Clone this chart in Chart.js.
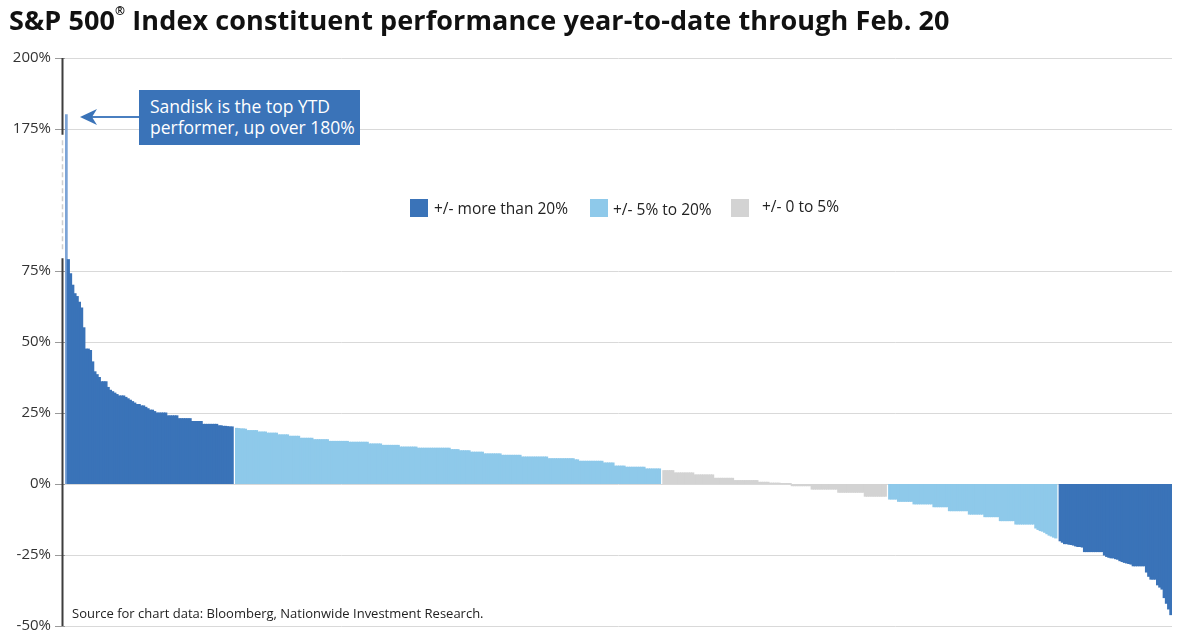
<!DOCTYPE html>
<html>
<head>
<meta charset="utf-8">
<script src="https://cdn.jsdelivr.net/npm/chart.js"></script>
<style>
  body { margin: 0; background: #fff; font-family: "Open Sans", sans-serif; }
  #wrap { position: relative; width: 1200px; height: 643px; overflow: hidden; }
  #chart { position: absolute; left: 0; top: 0; }
  .title { position: absolute; left: 9px; top: 1px; font-size: 27px; font-weight: 700; color: #111; white-space: nowrap; letter-spacing: 0.1px; }
  .title sup { font-size: 12px; position: relative; top: -5px; }
  .legend-box { position: absolute; width: 18px; height: 18px; }
  .legend-text { position: absolute; font-size: 15.5px; color: #222; white-space: nowrap; line-height: 18px; }
  .note { position: absolute; left: 139px; top: 90px; width: 221px; height: 55px; background: #3a73b8; color: #fff;
          font-size: 17.5px; line-height: 21px; padding: 6px 0 0 11px; box-sizing: border-box; white-space: nowrap; }
  .source { position: absolute; left: 72px; top: 604px; font-size: 13px; color: #222; white-space: nowrap; }
  svg { position: absolute; left: 0; top: 0; }
</style>
</head>
<body>
<div id="wrap">
  <canvas id="chart" width="1200" height="643"></canvas>
  <div class="title">S&amp;P 500<sup>®</sup> Index constituent performance year-to-date through Feb. 20</div>

  <div class="legend-box" style="left:410px;top:199px;background:#3a73b8"></div>
  <div class="legend-text" style="left:434px;top:199px">+/- more than 20%</div>
  <div class="legend-box" style="left:590px;top:199px;background:#8ec9ea"></div>
  <div class="legend-text" style="left:613px;top:200px">+/- 5% to 20%</div>
  <div class="legend-box" style="left:731px;top:199px;background:#d3d3d3"></div>
  <div class="legend-text" style="left:762px;top:197px">+/- 0 to 5%</div>

  <svg width="160" height="140">
    <line x1="139" y1="117" x2="92" y2="117" stroke="#4a7fc0" stroke-width="2"/>
    <polygon points="80,117 97,109 92,117 97,125" fill="#3a73b8"/>
  </svg>
  <div class="note">Sandisk is the top YTD<br>performer, up over 180%</div>

  <div class="source">Source for chart data: Bloomberg, Nationwide Investment Research.</div>
</div>

<script>
// YTD % change per constituent, sorted high to low, split by colour band
var darkUp = [180, 79, 74, 70, 67, 66, 64, 62, 55, 47.5, 47.5, 47, 43, 39.5, 38.5, 37.5, 36, 36, 36, 34,
  33, 32.5, 32, 31.5, 31, 31, 31, 30.5, 30, 29.5, 29, 28.5, 28, 28, 27.5, 27.5, 27, 26.5, 26, 26,
  25.5, 25, 25, 25, 25, 25, 24, 24, 24, 24, 24, 23, 23, 23, 23, 23, 23, 22, 22, 22,
  22, 22, 21, 21, 21, 21, 21, 21, 21, 20.5, 20.5, 20.3, 20.3, 20.2, 20.1, 20.1];

var lightUp = [19.6, 19.5, 19.4, 19.4, 19.3,
  18.8, 18.8, 18.8, 18.8, 18.8,
  18.3, 18.3, 18.3, 18.3,
  17.9, 17.9, 17.9, 17.9, 17.9,
  17.3, 17.3, 17.3, 17.3, 17.3,
  16.8, 16.8, 16.8, 16.8, 16.8,
  16.1, 16.1, 16.1, 16.1, 16.1, 16.1,
  15.6, 15.6, 15.6, 15.6, 15.6, 15.6, 15.6,
  15.0, 15.0, 15.0, 15.0, 15.0, 15.0, 15.0, 15.0, 15.0,
  14.7, 14.7, 14.7, 14.7, 14.7, 14.7, 14.7, 14.7, 14.7,
  14.1, 14.1, 14.1, 14.1, 14.1, 14.1,
  13.6, 13.6, 13.6, 13.6, 13.6, 13.6, 13.6, 13.6,
  13.0, 13.0, 13.0, 13.0, 13.0, 13.0, 13.0, 13.0,
  12.6, 12.6, 12.6, 12.6, 12.6, 12.6, 12.6, 12.6, 12.6, 12.6, 12.6, 12.6, 12.6, 12.6, 12.6,
  12.1, 12.1, 12.1, 12.1,
  11.7, 11.7, 11.7, 11.7, 11.7,
  11.2, 11.2, 11.2, 11.2, 11.2, 11.2,
  10.6, 10.6, 10.6, 10.6, 10.6, 10.6, 10.6, 10.6,
  10.1, 10.1, 10.1, 10.1, 10.1, 10.1, 10.1, 10.1, 10.1,
  9.5, 9.5, 9.5, 9.5, 9.5, 9.5, 9.5, 9.5, 9.5, 9.5, 9.5, 9.5,
  8.9, 8.9, 8.9, 8.9, 8.9, 8.9, 8.9, 8.9, 8.9, 8.9, 8.9, 8.9,
  8.5, 8.5,
  8.0, 8.0, 8.0, 8.0, 8.0, 8.0, 8.0, 8.0, 8.0, 8.0, 8.0,
  7.4, 7.4, 7.4, 7.4, 7.4,
  6.3, 6.3, 6.3, 6.3, 6.3,
  5.9, 5.9, 5.9, 5.9, 5.9, 5.9, 5.9, 5.9, 5.9,
  5.3, 5.3, 5.3, 5.3, 5.3, 5.3, 5.3];

var grayBand = [4.7, 4.7, 4.7, 4.7, 4.7,
  3.9, 3.9, 3.9, 3.9, 3.9, 3.9, 3.9, 3.9, 3.9,
  3.2, 3.2, 3.2, 3.2, 3.2, 3.2, 3.2, 3.2, 3.2,
  2.0, 2.0, 2.0, 2.0, 2.0, 2.0, 2.0, 2.0, 2.0,
  1.2, 1.2, 1.2, 1.2, 1.2, 1.2, 1.2, 1.2, 1.2, 1.2, 1.2,
  0.6, 0.6, 0.6, 0.6, 0.6, 0.3, 0.3, 0.3, 0.3, 0.3, 0.1, 0.1, 0.1, 0.1, 0.1,
  -0.6, -0.6, -0.6, -0.6, -0.6, -0.6, -0.6, -0.6, -0.6,
  -1.8, -1.8, -1.8, -1.8, -1.8, -1.8, -1.8, -1.8, -1.8, -1.8, -1.8, -1.8,
  -2.9, -2.9, -2.9, -2.9, -2.9, -2.9, -2.9, -2.9, -2.9, -2.9, -2.9, -2.9,
  -4.3, -4.3, -4.3, -4.3, -4.3, -4.3, -4.3, -4.3, -4.3, -4.3];

var lightDown = [-5.3, -5.3, -5.3, -5.3,
  -6.1, -6.1, -6.1, -6.1, -6.1, -6.1, -6.1,
  -7.0, -7.0, -7.0, -7.0, -7.0, -7.0, -7.0, -7.0, -7.0,
  -8.0, -8.0, -8.0, -8.0, -8.0, -8.0, -8.0,
  -9.4, -9.4, -9.4, -9.4, -9.4, -9.4, -9.4, -9.4, -9.4,
  -10.6, -10.6, -10.6, -10.6, -10.6, -10.6, -10.6,
  -11.5, -11.5, -11.5, -11.5, -11.5, -11.5, -11.5,
  -12.9, -12.9, -12.9, -12.9, -12.9, -12.9, -12.9,
  -14.1, -14.1, -14.1, -14.1, -14.1, -14.1, -14.1, -14.1, -14.1,
  -15.5, -16, -16.4, -16.6, -17, -17.5, -18, -18.3, -18.7, -19];

var darkDown = [-20.0, -20.5, -21, -21, -21.2, -21.3, -21.5, -21.8, -22, -22, -22.2,
  -23.8, -23.8, -23.8, -23.8, -23.8, -23.8, -23.8, -23.8, -23.8,
  -25, -25.5, -25.8, -26, -26, -26.3, -26.5,
  -27, -27.3, -27.6, -27.8, -28, -28.2,
  -28.8, -28.8, -28.8, -28.8, -28.8, -28.8,
  -31, -32.5, -33.5, -33.5, -33.5, -35.5, -36.3, -37, -40, -42, -44, -46];

var yTicks = [-50, -25, 0, 25, 50, 75, 175, 200];

var bandColors = ['#3a73b8', '#8ec9ea', '#d3d3d3', '#8ec9ea', '#3a73b8'];

// axis is broken between 75% and 175%: values above 100 are drawn 50 lower
var BREAK_AT = 100, BREAK_SKIP = 50;
function toPlot(v) { return v > BREAK_AT ? v - BREAK_SKIP : v; }
function toReal(v) { return v > BREAK_AT ? v + BREAK_SKIP : v; }

var values = [], colors = [];
[darkUp, lightUp, grayBand, lightDown, darkDown].forEach(function (band, b) {
  if (b > 0) { values.push(null); colors.push('rgba(0,0,0,0)'); }
  band.forEach(function (v) { values.push(toPlot(v)); colors.push(bandColors[b]); });
});
colors[0] = '#7da4d6'; // the Sandisk spike shows up as a thin, lighter line
var categories = values.map(function (v, i) { return i + 1; });

var axisBreak = {
  id: 'axisBreak',
  afterDraw: function (chart) {
    var ctx = chart.ctx, y = chart.scales.y, area = chart.chartArea;
    var x0 = area.left - 2.5;
    ctx.save();
    ctx.strokeStyle = '#3d3d3d';
    ctx.lineWidth = 2;
    ctx.beginPath();
    ctx.moveTo(x0, area.top);
    ctx.lineTo(x0, y.getPixelForValue(123));
    ctx.moveTo(x0, y.getPixelForValue(79.5));
    ctx.lineTo(x0, area.bottom);
    ctx.stroke();
    ctx.strokeStyle = '#cfcfcf';
    ctx.lineWidth = 1.5;
    ctx.setLineDash([5, 3]);
    ctx.beginPath();
    ctx.moveTo(x0, y.getPixelForValue(121));
    ctx.lineTo(x0, y.getPixelForValue(82.5));
    ctx.stroke();
    ctx.restore();
  }
};

new Chart(document.getElementById('chart').getContext('2d'), {
  type: 'bar',
  data: {
    labels: categories,
    datasets: [{
      data: values,
      backgroundColor: colors,
      borderWidth: 0,
      barPercentage: 1,
      categoryPercentage: 1,
      inflateAmount: 0.5
    }]
  },
  options: {
    responsive: false,
    animation: false,
    layout: { padding: { top: 58, bottom: 17, right: 28, left: 0 } },
    plugins: { legend: { display: false }, tooltip: { enabled: false } },
    scales: {
      x: { display: false, offset: true },
      y: {
        min: -50,
        max: 150,
        afterBuildTicks: function (scale) {
          scale.ticks = yTicks.map(function (v) { return { value: toPlot(v) }; });
        },
        afterFit: function (scale) { scale.width = 65; },
        ticks: {
          callback: function (value) { return toReal(value) + '%'; },
          color: '#333',
          font: { family: 'Open Sans', size: 15 },
          padding: 4
        },
        grid: { color: '#d9d9d9', tickLength: 10, tickColor: '#9a9a9a' },
        border: { display: false }
      }
    }
  },
  plugins: [axisBreak]
});
</script>
</body>
</html>
